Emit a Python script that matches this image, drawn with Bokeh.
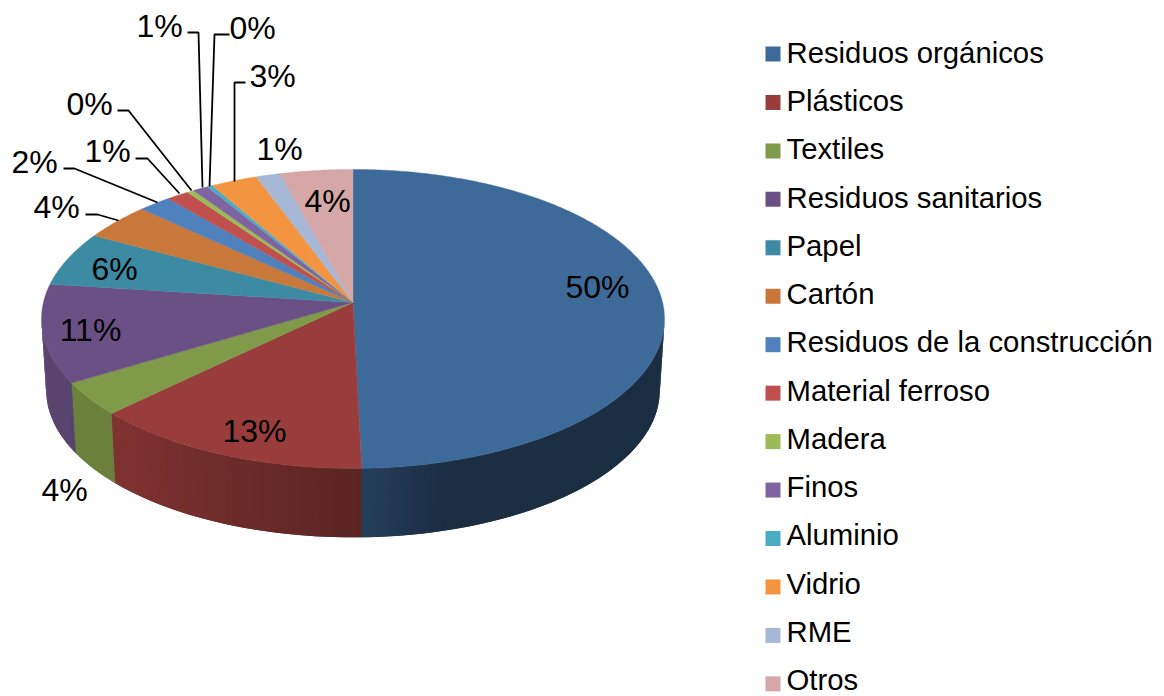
import numpy as np
from bokeh.plotting import figure
from bokeh.models import Range1d
from bokeh.core.properties import value
from bokeh.embed import file_html
from bokeh.resources import INLINE

categories = ["Residuos orgánicos", "Plásticos", "Textiles", "Residuos sanitarios", "Papel", "Cartón",
              "Residuos de la construcción", "Material ferroso", "Madera", "Finos", "Aluminio", "Vidrio", "RME", "Otros"]
shares = [49.6, 13.2, 3.6, 10.6, 5.9, 4.0, 1.9, 1.3, 0.4, 0.9, 0.3, 2.7, 1.4, 4.2]
labels = ["50%", "13%", "4%", "11%", "6%", "4%", "2%", "1%", "0%", "1%", "0%", "3%", "1%", "4%"]
colors = ["#3e6a9a", "#983d3b", "#7f9a48", "#6a5084", "#3c8ba3", "#c7783a", "#4f81bd",
          "#c0504d", "#9bbb59", "#8064a2", "#4bacc6", "#f39440", "#a7b7d6", "#d5a7a6"]

# page-pixel layout
label_x = [597, 254, 64, 90, 114, 56, 34, 107, 89, 159, 252, 272, 279, 327]
label_y = [286, 430, 489, 329, 268, 206, 161, 150, 103, 25, 27, 75, 148, 200]
leader_xs = [[63, 74, 157], [85, 97, 118], [135, 147, 179], [117, 128, 191], [187, 198, 202], [229, 214, 209], [245, 234, 234]]
leader_ys = [[168, 168, 202], [214, 214, 220], [158, 158, 193], [110, 110, 190], [32, 32, 187], [34, 34, 186], [82, 82, 181]]

W, H = 1164, 696
p = figure(width=W, height=H, output_backend="svg", toolbar_location=None,
           x_range=Range1d(0, W), y_range=Range1d(H, 0),
           min_border=0, outline_line_color=None)
p.axis.visible = False
p.grid.visible = False
p.background_fill_color = "white"

CX, APEX, AX, AY, K = 352.5, 302.0, 309.6, 147.7, 0.11
BOT_APEX, BOT_S = 373.4, 0.985


def rim(t, apex=APEX, s=1.0):
    w = 1 + K * np.cos(t)
    return CX + s * AX * np.sin(t) / w, apex - s * AY * np.cos(t) / w


def shade(hex_color, f):
    c = [int(hex_color[i:i + 2], 16) for i in (1, 3, 5)]
    return "#%02x%02x%02x" % tuple(int(round(v * f)) for v in c)


fractions = np.array(shares) / sum(shares)
edges = np.concatenate([[0], np.cumsum(fractions)]) * 2 * np.pi

# side wall: short overlapping quads, shaded by horizontal position
sx, sy, sc = [], [], []
limit = np.arccos(-K)
STEP_T = 0.02
for i, col in enumerate(colors):
    a, b = max(edges[i], limit), min(edges[i + 1], 2 * np.pi - limit)
    if b <= a:
        continue
    n = max(2, int((b - a) / STEP_T))
    ts = np.linspace(a, b, n + 1)
    for t0, t1 in zip(ts[:-1], ts[1:]):
        t_end = min(t1 + STEP_T, 2 * np.pi - limit)
        x0, y0 = rim(t0)
        x1, y1 = rim(t_end)
        x2, y2 = rim(t_end, BOT_APEX, BOT_S)
        x3, y3 = rim(t0, BOT_APEX, BOT_S)
        f = np.interp(rim((t0 + t1) / 2)[0], [47, 115, 360, 450, 660], [0.85, 0.83, 0.59, 0.43, 0.43])
        sx.append([x0, x1, x2, x3])
        sy.append([y0, y1, y2, y3])
        sc.append(shade(col, f))
p.patches(sx, sy, fill_color=sc, line_color=None)

# top face
tx, ty = [], []
for i in range(len(shares)):
    ts = np.linspace(edges[i], edges[i + 1], max(3, int((edges[i + 1] - edges[i]) / 0.01)))
    x, y = rim(ts)
    tx.append([CX] + list(x))
    ty.append([APEX] + list(y))
p.patches(tx, ty, fill_color=colors, line_color=colors, line_width=0.4)

# leaders
p.multi_line(leader_xs, leader_ys, line_color="black", line_width=1.8)

# data labels
p.text(label_x, label_y, text=labels, text_font=value("Liberation Sans"), text_font_size="32px",
       text_color="black", text_align="center", text_baseline="middle")

# legend
LX, LY, STEP = 765, 53.5, 48.45
ly = [LY + i * STEP for i in range(len(categories))]
text_y = [51.9 + i * 48.25 for i in range(len(categories))]
p.rect([LX + 7.5] * len(categories), ly, width=15, height=15, fill_color=colors, line_color=None)
p.text([LX + 21] * len(categories), text_y, text=categories, text_font=value("Liberation Sans"),
       text_font_size="29.3px", text_color="black", text_align="left", text_baseline="middle")

open("out.html", "w").write(file_html(p, INLINE))
